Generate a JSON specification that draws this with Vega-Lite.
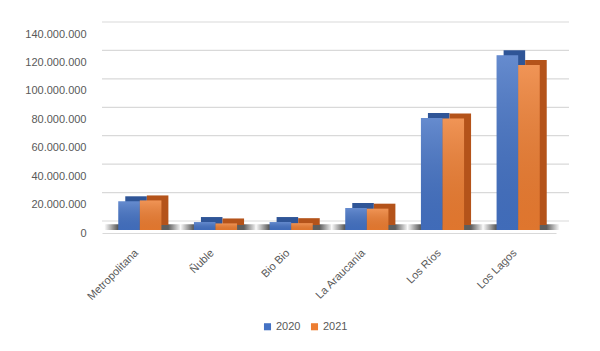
{
  "$schema": "https://vega.github.io/schema/vega-lite/v6.json",
  "autosize": "none",
  "width": 454,
  "height": 199,
  "padding": {"left": 102, "top": 34, "right": 44, "bottom": 118},
  "background": "#ffffff",
  "config": {
    "view": {"stroke": null},
    "font": "Liberation Sans",
    "axisY": {"values": [0, 20000000, 40000000, 60000000, 80000000, 100000000, 120000000, 140000000],
      "format": ",d", "grid": false, "domain": false, "ticks": false, "title": null, "labelOverlap": false,
      "labelColor": "#595959", "labelFontSize": 11, "labelPadding": 16},
    "axisX": {"labelAngle": -45, "labelAlign": "right", "labelBaseline": "middle", "labelPadding": 18, "labelOffset": -3,
      "domainColor": "#d9d9d9", "domainWidth": 1.2, "ticks": false, "title": null, "labelColor": "#595959", "labelFontSize": 11},
    "locale": {"number": {"decimal": ",", "thousands": ".", "grouping": [3], "currency": ["$", ""]}}
  },
  "resolve": {"scale": {"xOffset": "independent"}},
  "datasets": {
    "grid": [
      {"v": 0}, {"v": 20000000}, {"v": 40000000}, {"v": 60000000},
      {"v": 80000000}, {"v": 100000000}, {"v": 120000000}, {"v": 140000000}
    ],
    "main": [
      {"region": "Metropolitana", "year": "2020", "value": 20200000},
      {"region": "Metropolitana", "year": "2021", "value": 20800000},
      {"region": "Ñuble", "year": "2020", "value": 5600000},
      {"region": "Ñuble", "year": "2021", "value": 4600000},
      {"region": "Bio Bio", "year": "2020", "value": 5600000},
      {"region": "Bio Bio", "year": "2021", "value": 4800000},
      {"region": "La Araucanía", "year": "2020", "value": 15500000},
      {"region": "La Araucanía", "year": "2021", "value": 15000000},
      {"region": "Los Ríos", "year": "2020", "value": 78800000},
      {"region": "Los Ríos", "year": "2021", "value": 78500000},
      {"region": "Los Lagos", "year": "2020", "value": 123000000},
      {"region": "Los Lagos", "year": "2021", "value": 116000000}
    ]
  },
  "layer": [
    {
      "data": {"name": "grid"},
      "mark": {"type": "rule", "color": "#d9d9d9", "strokeWidth": 1.2, "xOffset": 13, "x2Offset": 13, "yOffset": -12},
      "encoding": {
        "y": {"field": "v", "type": "quantitative", "scale": {"domain": [0, 140000000]},
          "axis": {"values": [0, 20000000, 40000000, 60000000, 80000000, 100000000, 120000000, 140000000], "labelOverlap": false}}
      }
    },
    {
      "data": {"name": "main"},
      "transform": [{"filter": "datum.year == '2020'"}],
      "mark": {"type": "bar", "xOffset": 3, "yOffset": -3, "y2Offset": -3, "width": {"band": 1.785},
        "fill": {"gradient": "linear", "x1": 0, "y1": 0, "x2": 1, "y2": 0,
          "stops": [{"offset": 0, "color": "#ffffff"}, {"offset": 0.17, "color": "#5e5e5e"}, {"offset": 0.83, "color": "#5e5e5e"}, {"offset": 1, "color": "#ffffff"}]}},
      "encoding": {
        "x": {"field": "region", "type": "nominal", "sort": null,
          "scale": {"paddingInner": 0.43, "paddingOuter": 0.215}},
        "y": {"datum": 0, "axis": {"values": [0, 20000000, 40000000, 60000000, 80000000, 100000000, 120000000, 140000000], "labelOverlap": false}},
        "y2": {"datum": 4000000}
      }
    },
    {
      "data": {"name": "main"},
      "mark": {"type": "bar", "yOffset": -8, "y2Offset": -8},
      "encoding": {
        "x": {"field": "region", "type": "nominal", "sort": null},
        "xOffset": {"field": "year", "type": "nominal", "scale": {"range": [7, 50.13]}},
        "y": {"field": "value", "type": "quantitative", "axis": {"values": [0, 20000000, 40000000, 60000000, 80000000, 100000000, 120000000, 140000000], "labelOverlap": false}},
        "color": {"field": "year", "type": "nominal", "scale": {"range": ["#2f5597", "#b4531a"]}, "legend": null}
      }
    },
    {
      "data": {"name": "main"},
      "mark": {"type": "bar", "yOffset": -3, "y2Offset": -3},
      "encoding": {
        "x": {"field": "region", "type": "nominal", "sort": null},
        "xOffset": {"field": "year", "type": "nominal"},
        "y": {"field": "value", "type": "quantitative", "axis": {"values": [0, 20000000, 40000000, 60000000, 80000000, 100000000, 120000000, 140000000], "labelOverlap": false}},
        "fill": {"field": "year", "type": "nominal", "scale": {"range": ["#4472c4", "#ed7d31"]},
          "legend": {"orient": "none", "legendX": 160, "legendY": 287, "direction": "horizontal", "title": null,
            "symbolType": "square", "symbolSize": 50, "symbolStrokeWidth": 0, "labelColor": "#595959", "labelFontSize": 11,
            "columnPadding": 8, "labelOffset": 3}}
      }
    },
    {
      "data": {"name": "main"},
      "mark": {"type": "bar", "yOffset": -3, "y2Offset": -3,
        "fill": {"gradient": "linear", "x1": 0, "y1": 0, "x2": 0, "y2": 1,
          "stops": [{"offset": 0, "color": "rgba(255,255,255,0.18)"}, {"offset": 1, "color": "rgba(0,0,0,0.06)"}]}},
      "encoding": {
        "x": {"field": "region", "type": "nominal", "sort": null},
        "xOffset": {"field": "year", "type": "nominal"},
        "y": {"field": "value", "type": "quantitative", "axis": {"values": [0, 20000000, 40000000, 60000000, 80000000, 100000000, 120000000, 140000000], "labelOverlap": false}}
      }
    }
  ]
}
